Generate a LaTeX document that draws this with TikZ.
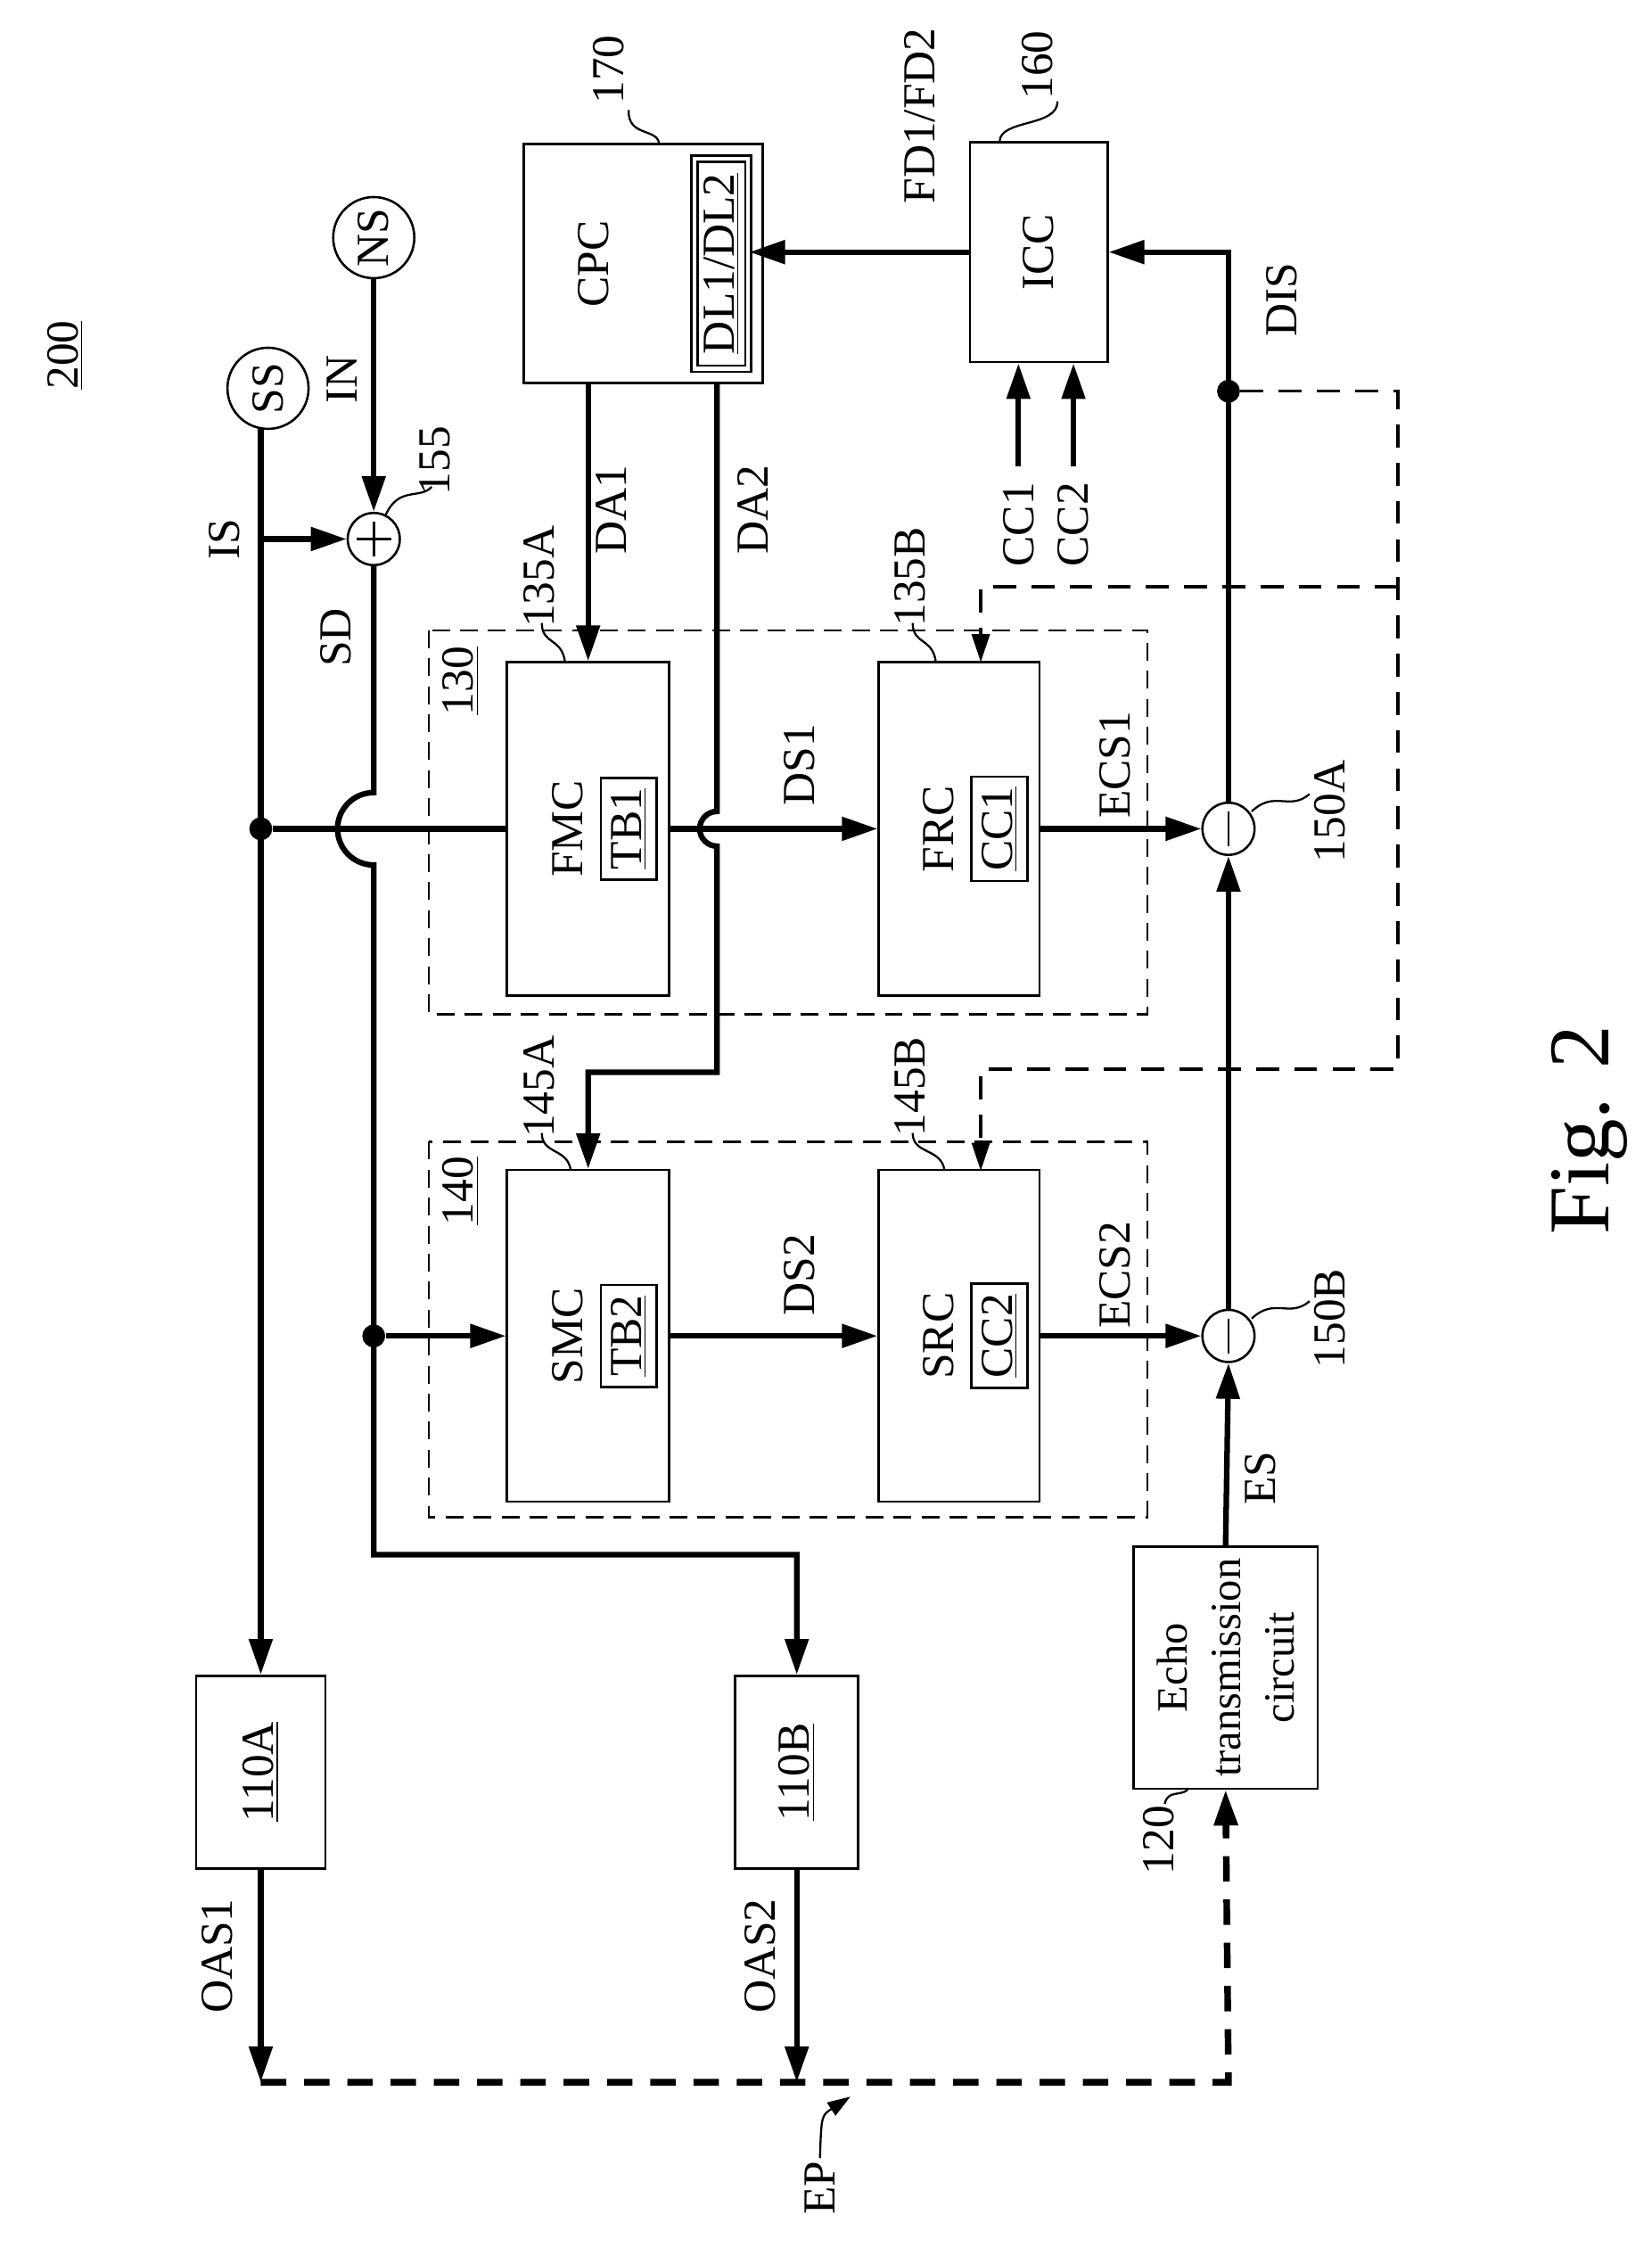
\documentclass[tikz,border=0pt]{standalone}
\usepackage{fontspec}
\setmainfont{Liberation Serif}
\usetikzlibrary{arrows.meta}
\newcommand{\lab}{\fontsize{18}{20}\selectfont}

\begin{document}
\begin{tikzpicture}[x=0.02cm, y=-0.02cm, font=\lab,
  blk/.style={draw, line width=0.9pt, inner sep=0pt},
  txt/.style={rotate=90, inner sep=1pt},
  sig/.style={line width=2.2pt, -{Triangle[length=14pt,width=9pt]}},
  wire/.style={line width=2.2pt},
  fb/.style={line width=1.2pt, dash pattern=on 9pt off 6pt, -{Triangle[length=11pt,width=7pt]}},
  ep/.style={line width=2.6pt, dash pattern=on 10pt off 7pt, -{Triangle[length=14pt,width=9pt]}},
  lead/.style={line width=0.8pt},
  dot/.style={circle, fill, inner sep=0pt, minimum size=9pt}]
  \useasboundingbox (0,0) rectangle (1140,1557);

  % blocks
  \node[blk, minimum width=2.24cm, minimum height=4.6cm] (fmc) at (406,572) {};
  \node[blk, minimum width=2.22cm, minimum height=4.6cm] (frc) at (662,572) {};
  \node[blk, minimum width=2.24cm, minimum height=4.58cm] (smc) at (406,922) {};
  \node[blk, minimum width=2.22cm, minimum height=4.58cm] (src) at (662,922) {};
  \node[txt] at (392,572) {FMC};
  \node[txt, draw, line width=0.9pt, inner sep=4pt] at (434,572) {\underline{TB1}};
  \node[txt] at (648,572) {FRC};
  \node[txt, draw, line width=0.9pt, inner sep=4pt] at (690,572) {\underline{CC1}};
  \node[txt] at (392,922) {SMC};
  \node[txt, draw, line width=0.9pt, inner sep=4pt] at (434,922) {\underline{TB2}};
  \node[txt] at (648,922) {SRC};
  \node[txt, draw, line width=0.9pt, inner sep=4pt] at (690,922) {\underline{CC2}};
  \draw[line width=0.9pt, dash pattern=on 7pt off 4pt] (296,435) rectangle (792,700);
  \draw[line width=0.9pt, dash pattern=on 7pt off 4pt] (296,788) rectangle (792,1047);
  \node[txt] at (318,470) {\underline{130}};
  \node[txt] at (318,822) {\underline{140}};

  \node[blk, minimum width=3.3cm, minimum height=3.3cm] (cpc) at (444,182) {};
  \node[txt] at (410,182) {CPC};
  \node[blk, double, double distance=1.5pt, minimum width=0.74cm, minimum height=2.9cm] (dl) at (498,182) {};
  \node[txt] at (498,182) {\underline{DL1/DL2}};
  \node[blk, minimum width=1.9cm, minimum height=3.04cm] (icc) at (717,174) {};
  \node[txt] at (717,174) {ICC};
  \node[blk, minimum width=2.54cm, minimum height=3.34cm] (echo) at (846,1151) {};
  \node[txt, align=center, font=\fontsize{17}{21}\selectfont] at (846,1151) {Echo\\transmission\\circuit};
  \node[blk, minimum width=1.78cm, minimum height=2.66cm] (oa) at (180,1223) {};
  \node[txt] at (180,1223) {\underline{110A}};
  \node[blk, minimum width=1.7cm, minimum height=2.66cm] (ob) at (550,1223) {};
  \node[txt] at (550,1223) {\underline{110B}};

  \node[blk, circle, minimum size=1.12cm] (ss) at (185,268) {};
  \node[txt] at (185,268) {SS};
  \node[blk, circle, minimum size=1.12cm] (ns) at (258,164) {};
  \node[txt] at (258,164) {NS};
  \node[blk, circle, minimum size=0.72cm] (sum) at (258,372) {};
  \node[blk, circle, minimum size=0.72cm] (m150a) at (848,572) {};
  \node[blk, circle, minimum size=0.72cm] (m150b) at (848,922) {};
  \draw[line width=1pt] (sum.center) ++(0,-12) -- ++(0,24) (sum.center) ++(-12,0) -- ++(24,0);
  \draw[line width=1pt] (m150a.center) ++(0,-12) -- ++(0,24);
  \draw[line width=1pt] (m150b.center) ++(0,-12) -- ++(0,24);

  % junctions
  \coordinate (is) at (180,372);
  \node[dot] (jf) at (180,572) {};
  \node[dot] (js) at (258,922) {};
  \node[dot] (jd) at (848,270) {};
  \coordinate (da2) at (495,265);
  \coordinate (cc1) at (703,322);
  \coordinate (cc2) at (741,322);
  \coordinate (ep1) at (180,1437);
  \coordinate (ep3) at (848,1437);

  % connectors
  \draw[sig] (180,296) -- (oa.north);
  \draw[sig] (is) -- (sum.west);
  \draw[sig] (ns.south) -- (sum.north);
  \draw[wire] (jf) -- (fmc.west);
  \draw[sig] (sum.south) -- (258,547) arc[start angle=90, end angle=270, radius=0.5cm]
    -- (258,1073) -- (550,1073) -- (ob.north);
  \draw[sig] (js) -- (smc.west);
  \draw[sig] (fmc.north |- cpc.south) -- (fmc.north);
  \draw[sig] (da2) -- (495,560) arc[start angle=90, end angle=270, radius=0.24cm]
    -- (495,740) -- (406,740) -- (smc.north);
  \draw[sig] (fmc.east) -- (frc.west);
  \draw[sig] (smc.east) -- (src.west);
  \draw[sig] (frc.east) -- (m150a.west);
  \draw[sig] (src.east) -- (m150b.west);
  \draw[sig] (echo.north) -- (m150b.south);
  \draw[sig] (m150b.north) -- (m150a.south);
  \draw[sig] (m150a.north) -- (m150a.north |- icc.east) -- (icc.east);
  \draw[sig] (icc.west) -- (dl.east |- icc.west);
  \draw[sig] (cc1) -- (cc1 |- icc.south);
  \draw[sig] (cc2) -- (cc2 |- icc.south);
  \draw[fb] (jd) -- (965,270) -- (965,738) -- (677,738) -- (677,808);
  \draw[fb] (965,405) -- (677,405) -- (677,457);
  \draw[sig] (oa.south) -- (ep1);
  \draw[sig] (ob.south) -- (550,1437);
  \draw[ep] (ep1) -- (ep3) -- (echo.south);

  % signal labels
  \node[txt] at (155,372) {IS};
  \node[txt] at (236,262) {IN};
  \node[txt] at (232,440) {SD};
  \node[txt] at (422,352) {DA1};
  \node[txt] at (520,352) {DA2};
  \node[txt] at (552,528) {DS1};
  \node[txt] at (552,880) {DS2};
  \node[txt] at (770,528) {ECS1};
  \node[txt] at (770,880) {ECS2};
  \node[txt] at (635,80) {FD1/FD2};
  \node[txt] at (885,207) {DIS};
  \node[txt] at (703,362) {CC1};
  \node[txt] at (741,362) {CC2};
  \node[txt] at (870,1020) {ES};
  \node[txt] at (150,1350) {OAS1};
  \node[txt] at (525,1350) {OAS2};
  \node[txt] at (45,245) {\underline{200}};
  \node[txt] (eplab) at (566,1510) {EP};
  \draw[lead, -{Triangle[length=9pt,width=6pt]}] (eplab.east) .. controls (567,1460) .. (587,1447);
  \node[txt, font=\fontsize{34}{36}\selectfont] at (1097,780) {Fig. 2};

  % reference numerals
  \node[txt] at (300,318) {155};
  \draw[lead] (266,356) .. controls (275,335) and (290,345) .. (298,336);
  \node[txt] at (420,48) {170};
  \draw[lead] (434,76) .. controls (433,95) and (455,88) .. (455,100);
  \node[txt] at (716,45) {160};
  \draw[lead] (730,70) .. controls (730,88) and (690,82) .. (690,98);
  \node[txt] at (372,398) {135A};
  \draw[lead] (374,430) .. controls (374,445) and (388,440) .. (390,457);
  \node[txt] at (628,398) {135B};
  \draw[lead] (630,430) .. controls (630,445) and (644,440) .. (646,457);
  \node[txt] at (372,750) {145A};
  \draw[lead] (374,782) .. controls (374,797) and (392,792) .. (394,808);
  \node[txt] at (628,750) {145B};
  \draw[lead] (630,782) .. controls (630,797) and (650,792) .. (652,808);
  \node[txt] at (918,560) {150A};
  \draw[lead] (864,560) .. controls (880,545) and (890,560) .. (904,548);
  \node[txt] at (918,910) {150B};
  \draw[lead] (864,910) .. controls (880,895) and (890,910) .. (904,898);
  \node[txt] at (800,1270) {120};
  \draw[lead] (804,1245) .. controls (806,1235) and (815,1240) .. (820,1235);
\end{tikzpicture}
\end{document}
